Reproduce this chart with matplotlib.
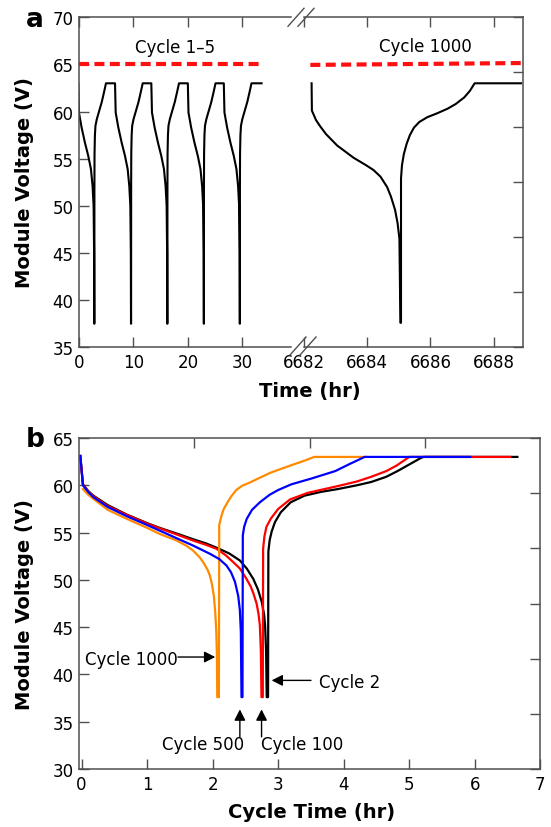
import matplotlib
matplotlib.use('Agg')
import matplotlib.pyplot as plt
from matplotlib.lines import Line2D

# ---- panel a : cycles 1-5 (one cycle profile, time from start of discharge)
prof_t = [0.0, 0.12, 0.61, 1.22, 1.83, 2.32, 2.62, 2.81, 2.90, 2.93,
          2.95, 2.96, 2.98, 3.05, 3.15, 3.40, 3.80, 4.30, 4.70, 5.08]
prof_v = [63.0, 59.9, 58.3, 56.7, 55.3, 53.9, 52.1, 50.0, 45.0, 37.5,
          37.5, 52.0, 55.5, 57.5, 58.5, 59.2, 60.0, 61.0, 62.0, 63.0]
cycle_start = [-0.13, 6.61, 13.27, 19.97, 26.57]
last_end = 33.5

# cycle 1000
c1000_t = [6682.24, 6682.25, 6682.38, 6682.52, 6682.70, 6683.05, 6683.33, 6683.57, 6683.97,
           6684.20, 6684.42, 6684.63, 6684.75, 6684.88, 6684.96, 6685.02, 6685.05,
           6685.07, 6685.07, 6685.10, 6685.16, 6685.25, 6685.35, 6685.48, 6685.65,
           6685.90, 6686.20, 6686.54, 6686.80, 6687.07, 6687.25, 6687.40, 6688.87]
c1000_v = [63.0, 60.1, 59.1, 58.4, 57.6, 56.4, 55.7, 55.1, 54.3,
           53.8, 53.1, 52.0, 51.0, 49.6, 48.2, 46.5, 37.6,
           37.6, 52.9, 54.3, 55.5, 56.6, 57.5, 58.3, 58.9,
           59.4, 59.8, 60.3, 60.8, 61.5, 62.2, 63.0, 63.0]
# unlabeled ticks on the right spine of panel a (volts)
a_right_ticks = [35.0, 40.83, 46.67, 52.5, 58.33, 64.17, 70.0]

# ---- panel b : single cycles
c2_t = [-0.02, 0.02, 0.10, 0.18, 0.40, 0.69, 1.00, 1.19, 1.45, 1.70, 1.90, 2.06, 2.25,
        2.415, 2.52, 2.62, 2.69, 2.75, 2.785, 2.80, 2.815, 2.825,
        2.845, 2.85, 2.87, 2.90, 2.95, 3.04, 3.19, 3.40, 3.65, 3.91, 4.20, 4.42,
        4.65, 4.82, 5.00, 5.18, 5.22, 6.65]
c2_v = [63.1, 60.1, 59.4, 58.9, 57.9, 56.9, 56.0, 55.5, 54.9, 54.3, 53.85, 53.4, 52.8,
        52.05, 51.2, 50.1, 49.0, 47.65, 46.3, 45.2, 42.5, 37.6,
        37.6, 53.0, 54.2, 55.1, 56.1, 57.15, 58.2, 58.9, 59.3, 59.6, 60.0, 60.35,
        60.9, 61.5, 62.2, 62.9, 63.0, 63.0]

c100_t = [-0.02, 0.02, 0.10, 0.18, 0.40, 0.69, 1.00, 1.19, 1.45, 1.70, 1.90, 2.06, 2.20,
          2.31, 2.415, 2.517, 2.58, 2.62, 2.67, 2.70, 2.72, 2.735, 2.745,
          2.765, 2.77, 2.79, 2.82, 2.89, 3.00, 3.18, 3.45, 3.90, 4.20, 4.42, 4.65,
          4.81, 5.00, 6.54]
c100_v = [63.1, 60.1, 59.35, 58.84, 57.8, 56.87, 55.95, 55.46, 54.8, 54.16, 53.7, 53.28, 52.6,
          51.9, 51.2, 50.1, 49.3, 48.6, 47.5, 46.4, 45.2, 42.5, 37.6,
          37.6, 53.3, 54.6, 55.6, 56.5, 57.5, 58.5, 59.2, 59.9, 60.4, 60.9, 61.5,
          62.1, 63.0, 63.0]

c500_t = [-0.02, 0.02, 0.10, 0.18, 0.40, 0.69, 1.00, 1.19, 1.45, 1.70, 1.96, 2.10, 2.21,
          2.28, 2.34, 2.39, 2.415, 2.43, 2.44,
          2.455, 2.46, 2.48, 2.52, 2.60, 2.72, 2.87, 3.00, 3.20, 3.50, 3.87, 4.09,
          4.32, 5.93]
c500_v = [63.1, 60.0, 59.3, 58.74, 57.7, 56.73, 55.8, 55.21, 54.4, 53.63, 52.75, 52.2, 51.52,
          50.8, 49.8, 48.3, 46.8, 44.5, 37.6,
          37.6, 54.7, 55.6, 56.45, 57.4, 58.2, 59.0, 59.5, 60.1, 60.7, 61.5, 62.25,
          63.0, 63.0]

c1000b_t = [0.02, 0.10, 0.18, 0.40, 0.69, 1.00, 1.19, 1.45, 1.60, 1.70, 1.80, 1.855,
            1.92, 1.957, 1.99, 2.018, 2.04, 2.055, 2.065, 2.07,
            2.095, 2.10, 2.135, 2.17, 2.21, 2.28, 2.36, 2.45, 2.57, 2.72, 2.89, 3.19,
            3.40, 3.55, 4.34]
c1000b_v = [59.6, 59.0, 58.56, 57.4, 56.45, 55.5, 54.86, 54.16, 53.6, 53.1, 52.4, 51.87,
            51.1, 50.46, 49.5, 48.3, 46.5, 44.5, 42.0, 37.6,
            37.6, 55.8, 56.8, 57.5, 58.0, 58.8, 59.5, 59.95, 60.3, 60.8, 61.35, 62.1,
            62.6, 63.0, 63.0]

gray = '#505050'
tick_fs = 12

fig = plt.figure(figsize=(5.51, 8.28), dpi=100)
W, H = 551.0, 828.0


def box(l, t, r, b):
    return [l / W, 1 - b / H, (r - l) / W, (b - t) / H]


def style(ax):
    for s in ax.spines.values():
        s.set_color(gray)
        s.set_linewidth(1.1)
    ax.tick_params(direction='in', length=7, width=1.0, color=gray,
                   labelsize=tick_fs, pad=4)


# ---------------- panel a ----------------
axL = fig.add_axes(box(79, 18.3, 291, 348.3))
axR = fig.add_axes(box(304, 18.3, 523.3, 348.3))

# build cycles 1-5 from the profile
ta, va = [], []
for s in cycle_start:
    for t, v in zip(prof_t, prof_v):
        ta.append(s + t)
        va.append(v)
ta.append(last_end)
va.append(63.0)

axL.plot(ta, va, color='black', lw=1.5)
axL.plot([0, 33.5], [65, 65], color='#ff1010', lw=3, dashes=(2.4, 1.3))
axR.plot(c1000_t, c1000_v, color='black', lw=1.5)
axR.plot([6682.2, 6688.94], [64.95, 65.15], color='#ff1010', lw=3, dashes=(2.4, 1.3))

for ax in (axL, axR):
    style(ax)
    ax.set_ylim(35, 70)
    ax.tick_params(top=True)
axL.set_xlim(0, 38.9)
axL.set_xticks([0, 10, 20, 30])
axL.set_yticks([35, 40, 45, 50, 55, 60, 65, 70])
axL.spines['right'].set_visible(False)
axR.set_xlim(6682.0, 6688.94)
axR.set_xticks([6682, 6684, 6686, 6688])
axR.spines['left'].set_visible(False)
axR.set_yticks(a_right_ticks)
axR.tick_params(axis='y', left=False, labelleft=False, right=True, labelright=False)

axL.text(17.6, 66.8, 'Cycle 1\u20135', ha='center', va='center', fontsize=12)
axR.text(6685.84, 67.0, 'Cycle 1000', ha='center', va='center', fontsize=12)

# break marks
for cx, cy in [(296, 18.3), (306, 18.3), (298, 347), (308, 347)]:
    fig.add_artist(Line2D([(cx - 8) / W, (cx + 8) / W],
                          [1 - (cy + 9) / H, 1 - (cy - 9) / H],
                          color=gray, lw=1.0))

fig.text(26 / W, 1 - 27 / H, 'a', fontsize=19, fontweight='bold', va='baseline')
fig.text(25 / W, 1 - 183 / H, 'Module Voltage (V)', rotation=90, fontsize=14,
         fontweight='bold', ha='center', va='center')
fig.text(309.7 / W, 1 - 391.7 / H, 'Time (hr)', fontsize=14, fontweight='bold',
         ha='center', va='center')

# ---------------- panel b ----------------
axb = fig.add_axes(box(79, 439, 540.3, 770))
axb.plot(c2_t, c2_v, color='black', lw=1.6)
axb.plot(c100_t, c100_v, color='#ff0000', lw=1.6)
axb.plot(c1000b_t, c1000b_v, color='#ff8a00', lw=1.6)
axb.plot(c500_t, c500_v, color='#0000ff', lw=1.6)
style(axb)
axb.set_xlim(-0.04, 7)
axb.set_ylim(30, 65)
axb.set_xticks(range(8))
axb.set_yticks([30, 35, 40, 45, 50, 55, 60, 65])

# unlabeled ticks on the right and top spines (own scales)
ov = fig.add_axes(box(79, 439, 540.3, 770), facecolor='none')
for s in ov.spines.values():
    s.set_visible(False)
ov.set_xlim(0, 4)
ov.set_ylim(0, 6)
ov.set_xticks([1, 2, 3])
ov.set_yticks(range(7))
ov.tick_params(direction='in', length=7, width=1.0, color=gray,
               left=False, bottom=False, right=True, top=True,
               labelleft=False, labelbottom=False, labelright=False, labeltop=False)

arw = dict(arrowstyle='-|>,head_length=0.55,head_width=0.28', color='black',
           lw=1.0, shrinkA=0, shrinkB=0, mutation_scale=12)
axb.annotate('', xy=(2.04, 41.84), xytext=(1.47, 41.84), arrowprops=arw)
axb.text(1.46, 41.84, 'Cycle 1000', ha='right', va='center_baseline', fontsize=12)
axb.annotate('', xy=(2.90, 39.37), xytext=(3.5, 39.37), arrowprops=arw)
axb.text(3.63, 39.37, 'Cycle 2', ha='left', va='center_baseline', fontsize=12)
axb.annotate('', xy=(2.415, 36.3), xytext=(2.415, 33.4), arrowprops=arw)
axb.text(1.86, 32.87, 'Cycle 500', ha='center', va='center_baseline', fontsize=12)
axb.annotate('', xy=(2.746, 36.3), xytext=(2.746, 33.4), arrowprops=arw)
axb.text(3.36, 32.87, 'Cycle 100', ha='center', va='center_baseline', fontsize=12)

fig.text(26 / W, 1 - 447 / H, 'b', fontsize=19, fontweight='bold', va='baseline')
fig.text(25 / W, 1 - 604.5 / H, 'Module Voltage (V)', rotation=90, fontsize=14,
         fontweight='bold', ha='center', va='center')
fig.text(312 / W, 1 - 813 / H, 'Cycle Time (hr)', fontsize=14, fontweight='bold',
         ha='center', va='center')

fig.savefig('out.png', dpi=100)
